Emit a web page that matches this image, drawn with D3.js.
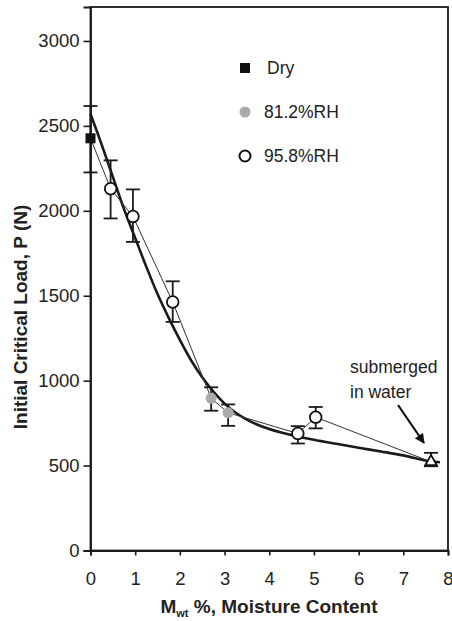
<!DOCTYPE html>
<html>
<head>
<meta charset="utf-8">
<script src="https://cdn.jsdelivr.net/npm/d3@7"></script>
<style>
html,body{margin:0;padding:0;background:#fff;}
svg{display:block;font-family:"Liberation Sans",Arial,sans-serif;}
</style>
</head>
<body>
<svg id="chart" width="452" height="621"></svg>
<script>
// ---- data ----
const xTicks = [0,1,2,3,4,5,6,7,8];
const yTicks = [0,500,1000,1500,2000,2500,3000];

// [moisture %, load, lower error, upper error]
const dryPts = [[0, 2427, 2226, 2617]];
const rh812Pts = [[2.70, 896, 823, 961],[3.08, 811, 734, 860]];
const rh958Pts = [[0.45, 2130, 1955, 2297],[0.95, 1967, 1817, 2126],[1.84, 1463, 1346, 1585],[4.64, 689, 630, 732],[5.04, 785, 719, 845]];
const submergedPts = [[7.62, 522, 496, 575]];

// fitted trend curve (thick line)
const fitX = [0,0.25,0.5,0.75,1.0,1.25,1.5,1.75,2.0,2.25,2.5,2.75,3.0,3.5,4.0,4.5,5.0,5.5,6.0,6.5,7.0,7.62,7.82];
const fitY = [2570,2390,2200,2010,1840,1670,1510,1370,1240,1120,1020,935,865,770,715,680,652,628,605,583,560,525,520];

const legendLabels = ["Dry","81.2%RH","95.8%RH"];

// ---- drawing ----
const svg = d3.select("#chart");
const x = d3.scaleLinear().domain([0,8]).range([90.5,448]);
const y = d3.scaleLinear().domain([0,3200]).range([550.5,7]);
const ink = "#1a1a1a";

// frame
svg.append("rect").attr("x",x(0)).attr("y",y(3200)).attr("width",x(8)-x(0)).attr("height",y(0)-y(3200))
  .attr("fill","none").attr("stroke",ink).attr("stroke-width",1.8);

// axes
const yAxis = svg.append("g").attr("transform",`translate(${x(0)},0)`)
  .call(d3.axisLeft(y).tickValues(yTicks).tickFormat(d3.format("d")).tickSize(7).tickPadding(4));
const xAxis = svg.append("g").attr("transform",`translate(0,${y(0)})`)
  .call(d3.axisBottom(x).tickValues(xTicks).tickFormat(d3.format("d")).tickSize(5).tickPadding(16));
[yAxis,xAxis].forEach(a=>{
  a.select(".domain").attr("stroke",ink).attr("stroke-width",1.8);
  a.selectAll(".tick line").attr("stroke",ink).attr("stroke-width",1.6);
  a.selectAll(".tick text").attr("fill","#222").style("font-size","18.5px").style("font-family","'Liberation Sans',Arial,sans-serif");
});

// axis titles
svg.append("text").attr("transform","translate(27,317) rotate(-90)").attr("text-anchor","middle")
  .style("font-size","19px").style("font-weight","bold").attr("fill","#222")
  .text("Initial Critical Load, P (N)");
const xt = svg.append("text").attr("x",269).attr("y",613).attr("text-anchor","middle")
  .style("font-size","19px").style("font-weight","bold").attr("fill","#222");
xt.append("tspan").text("M");
xt.append("tspan").attr("dy",4).style("font-size","11px").text("wt");
xt.append("tspan").attr("dy",-4).text(" %, Moisture Content");

// fitted thick curve
const fitData = fitX.map((v,i)=>[v,fitY[i]]);
svg.append("path").datum(fitData)
  .attr("d",d3.line().x(d=>x(d[0])).y(d=>y(d[1])).curve(d3.curveMonotoneX))
  .attr("fill","none").attr("stroke",ink).attr("stroke-width",2.6);

// thin connecting line through all measured points
const allPts = [...dryPts,...rh958Pts,...rh812Pts,...submergedPts].sort((a,b)=>a[0]-b[0]);
svg.append("path").datum(allPts)
  .attr("d",d3.line().x(d=>x(d[0])).y(d=>y(d[1])))
  .attr("fill","none").attr("stroke","#333").attr("stroke-width",1);

// error bars
const capW = 7;
const eb = svg.append("g").attr("stroke",ink).attr("stroke-width",1.8);
allPts.forEach(d=>{
  const cx = x(d[0]);
  eb.append("line").attr("x1",cx).attr("x2",cx).attr("y1",y(d[2])).attr("y2",y(d[3]));
  eb.append("line").attr("x1",cx-capW).attr("x2",cx+capW).attr("y1",y(d[2])).attr("y2",y(d[2]));
  eb.append("line").attr("x1",cx-capW).attr("x2",cx+capW).attr("y1",y(d[3])).attr("y2",y(d[3]));
});

// markers
svg.selectAll(".dry").data(dryPts).join("rect")
  .attr("x",d=>x(d[0])-5).attr("y",d=>y(d[1])-5).attr("width",10).attr("height",10).attr("fill","#111");
svg.selectAll(".rh812").data(rh812Pts).join("circle")
  .attr("cx",d=>x(d[0])).attr("cy",d=>y(d[1])).attr("r",5.5).attr("fill","#aaa");
svg.selectAll(".rh958").data(rh958Pts).join("circle")
  .attr("cx",d=>x(d[0])).attr("cy",d=>y(d[1])).attr("r",5.8).attr("fill","#fff").attr("stroke","#111").attr("stroke-width",1.8);
svg.selectAll(".sub").data(submergedPts).join("path")
  .attr("transform",d=>`translate(${x(d[0])},${y(d[1])})`)
  .attr("d",d3.symbol(d3.symbolTriangle,60)).attr("fill","#fff").attr("stroke","#111").attr("stroke-width",1.8);

// legend
const lg = svg.append("g");
const legY = [68,112,156];
lg.append("rect").attr("x",240).attr("y",legY[0]-5).attr("width",10).attr("height",10).attr("fill","#111");
lg.append("circle").attr("cx",245).attr("cy",legY[1]).attr("r",5.5).attr("fill","#aaa");
lg.append("circle").attr("cx",245).attr("cy",legY[2]).attr("r",5.5).attr("fill","#fff").attr("stroke","#111").attr("stroke-width",2);
legendLabels.forEach((t,i)=>{
  lg.append("text").attr("x",i===0?267:264).attr("y",legY[i]+6).style("font-size","17.5px").attr("fill","#222").text(t);
});

// annotation
svg.append("text").attr("x",350).attr("y",373).style("font-size","17.5px").attr("fill","#222").text("submerged");
svg.append("text").attr("x",350).attr("y",398).style("font-size","17.5px").attr("fill","#222").text("in water");
svg.append("defs").append("marker").attr("id","ah").attr("viewBox","0 0 10 10").attr("refX",9).attr("refY",5)
  .attr("markerWidth",5).attr("markerHeight",4.5).attr("orient","auto")
  .append("path").attr("d","M0,0L10,5L0,10Z").attr("fill","#111");
svg.append("line").attr("x1",398).attr("y1",405).attr("x2",424).attr("y2",443)
  .attr("stroke","#111").attr("stroke-width",2.2).attr("marker-end","url(#ah)");
</script>
</body>
</html>
